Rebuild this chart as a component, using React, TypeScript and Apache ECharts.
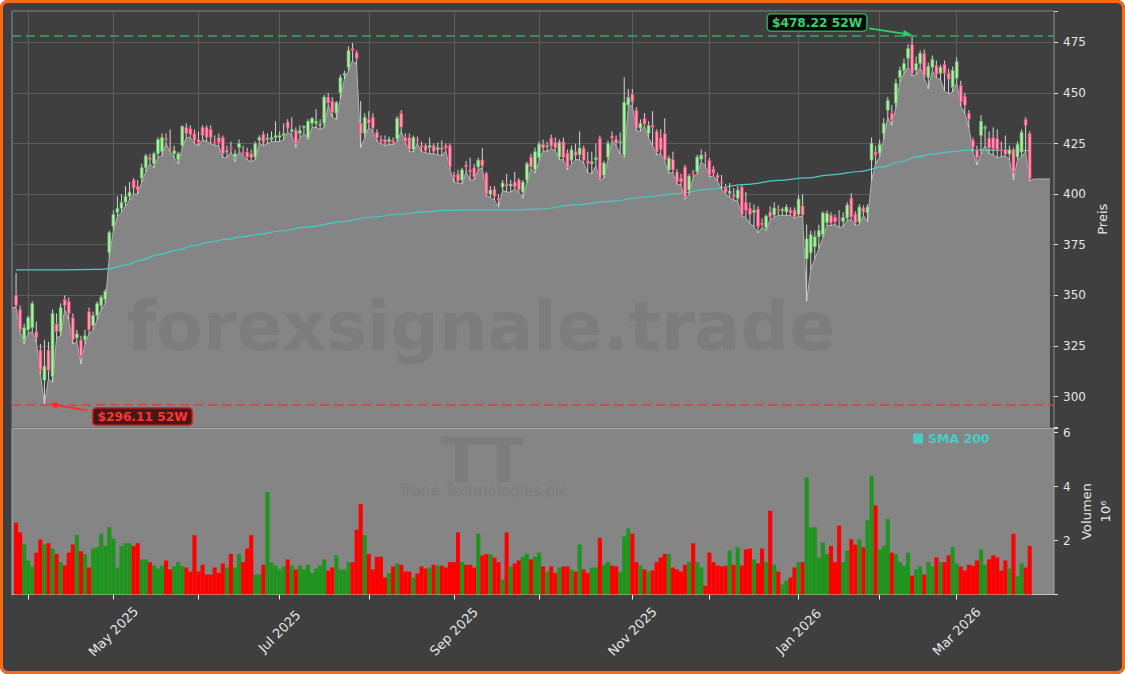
import React, { useEffect, useRef } from "react";
import * as echarts from "echarts";

// ---------- data ----------
const opens = [
  350, 343, 328, 333, 334, 332, 323, 308, 323, 310,
  336, 332, 348, 347, 339, 329, 328, 328, 342, 335,
  340, 345, 348, 371, 384, 391, 393, 396, 399, 407,
  404, 408, 413, 418, 415, 420, 421, 427.5, 423, 420,
  417, 424, 433, 432.5, 430, 427, 433, 433, 432, 426,
  428, 428, 421, 423, 418.3, 423, 421, 420.8, 420, 418.3,
  426.7, 429.6, 427, 427, 428, 428, 429, 435.6, 431, 431.6,
  430, 433, 428, 435, 435, 434, 435, 448, 446, 440,
  450, 458.7, 462.7, 472, 470, 435, 430, 437, 438, 430.6,
  427, 427, 426, 426.5, 427.2, 440, 428, 428, 422, 427,
  424, 424, 423, 424, 422, 423, 424, 424, 409.5, 410,
  407, 414.4, 412, 413, 413.4, 417, 410.4, 400, 402.5, 398,
  403.5, 405, 404, 406, 407, 401, 407, 418.3, 412, 418,
  424.7, 423.5, 427.7, 425.7, 418.3, 426, 420.3, 416.8, 421, 419.5,
  422.8, 416.5, 415, 417, 427.7, 409.4, 418.3, 428.7, 427.2, 425.5,
  419.3, 444, 449.4, 441.5, 432.6, 437.5, 430, 434, 431, 428,
  430, 411.9, 417.3, 411, 408, 413.4, 402, 410.3, 411, 417.3,
  419.5, 416.8, 412.4, 409.4, 406, 403.5, 400.5, 399.5, 398, 403.5,
  396, 393, 391, 392.7, 385.8, 383.3, 391.2, 389.7, 392.5, 391.8,
  391.2, 392.2, 392.2, 390, 394.2, 368, 371, 374, 379, 380,
  386, 389.7, 388.7, 388, 386.5, 388.2, 398.1, 390.2, 386.3, 393.2,
  390.7, 416.8, 420.8, 420.3, 430, 441.5, 440, 444.9, 457.7, 461.2,
  467.1, 474, 461.2, 464.6, 469.6, 457.7, 462.7, 463.7, 459.7, 464.2,
  459.7, 452.8, 457.3, 453.8, 448.4, 440, 426.7, 421.8, 429, 432.6,
  427.7, 428, 427.5, 422, 422, 419.8, 421.8, 418.3, 420.8, 437,
  430.1,
];

const highs = [
  361, 345, 336, 340, 347, 337, 326, 328, 327, 343,
  341, 346, 350, 349, 341, 333, 330, 333, 344, 342,
  347, 350, 353, 382, 392, 399, 400, 404, 406, 408,
  407, 415, 420, 420, 421, 428, 430, 430, 432, 424,
  421, 434, 435, 434, 432, 431, 434, 434, 434, 429,
  430, 429, 424, 426, 422, 427, 424, 423, 422, 426,
  429, 431, 430, 431, 436, 431, 435, 437, 438, 433,
  434, 434, 437, 438, 442, 437, 449, 450, 448, 446,
  459, 461, 473, 474.6, 471, 446, 440, 441, 440, 432,
  429, 429, 428.5, 428, 438.5, 441.5, 430, 430, 429, 428.5,
  426, 425, 428, 425, 425.5, 426.5, 425, 425, 411, 412,
  413, 416.5, 418, 415, 418, 422.8, 411, 404, 404, 400,
  407, 410, 407, 411, 408, 407, 416, 420, 423, 426,
  427, 426, 429.5, 428, 427, 428, 422, 424, 425, 431,
  424, 421, 421, 425, 429, 416.5, 426.5, 431, 429, 430.5,
  457.7, 452, 452, 443, 437, 440, 436, 441, 432, 432,
  437.5, 419, 421, 412.5, 410, 414.5, 410, 412, 419.5, 422,
  421, 418, 414, 410.5, 409.5, 405, 405.5, 403, 404, 404.5,
  401, 396, 395, 394, 388, 390, 394, 396, 394.5, 393.5,
  395, 393.5, 393.5, 399.5, 400, 385, 382, 382, 385, 391.5,
  392, 391, 390, 392, 391, 396, 400.5, 391.5, 395, 394.5,
  395, 428, 424, 427, 437.5, 448, 444, 457, 463, 467,
  474, 478.22, 468, 471, 471.5, 465, 468.5, 466, 464, 466,
  462, 463, 467.6, 456, 450, 441.5, 428, 424, 439, 434,
  431, 433, 432, 426, 429, 424, 423, 426, 432, 438,
  431,
];

const lows = [
  344, 332, 326, 331, 332, 327, 311, 296.11, 309, 307,
  329, 330, 343, 338, 326, 327, 316, 326, 331, 333,
  338, 343, 346, 369, 382, 389, 391, 394, 397, 400,
  400, 406, 411, 415, 413, 418, 419, 425, 421, 418,
  415, 423, 428, 428, 425, 424, 427, 426, 425, 424,
  424, 418, 418, 421, 416, 421, 419, 417, 416, 417,
  425, 424, 425, 426, 426, 426, 427, 431, 429, 423,
  428, 430, 427, 433, 433, 432, 433, 444, 438, 437,
  447, 457, 461, 466, 464, 423, 428, 433, 431, 426,
  425, 424, 424.5, 424.5, 426, 431, 425.5, 421, 421, 425,
  421, 420.5, 420, 420, 419.5, 419, 421.5, 412.5, 406, 405.5,
  405, 411, 407, 407, 412, 413, 399, 398.5, 397, 393.7,
  402, 401, 401, 402.5, 401, 398, 405.5, 412.5, 410.5, 416.5,
  421.5, 421, 422.5, 421.5, 417, 417, 412, 415, 417, 417,
  415.5, 410.5, 410, 414, 407, 408, 417, 426.5, 424, 420,
  418, 443, 444, 431.5, 431, 433.5, 428, 424, 419.5, 420,
  416, 410.5, 410.5, 405, 404.5, 397.5, 400, 408.5, 410, 416,
  414, 408.5, 409, 406.5, 402.5, 400, 398.5, 397, 396.5, 389,
  388.5, 385.5, 384, 380.8, 383.5, 382, 387.5, 388.5, 389.5, 389.5,
  389.5, 389.5, 388, 389, 389, 347, 363, 368, 373, 378.5,
  384.5, 384.5, 385, 383.5, 384, 387, 387.5, 384.5, 385, 389.5,
  386.5, 407, 415, 418.5, 427, 438, 434, 443, 455.5, 459.5,
  462.5, 458.5, 459, 462.5, 457.5, 452, 461, 457.5, 456.5, 451,
  449.5, 450.5, 455, 443.5, 440, 433, 421, 414.4, 420, 424,
  420, 419.5, 418, 418.5, 419, 417, 407, 417, 418.5, 421,
  406.5,
];

const closes = [
  345, 333, 334, 339, 346, 329, 313, 315, 313, 341,
  332, 344, 345, 341, 328, 331, 320, 330, 333, 340,
  346, 349, 352, 381, 390, 393, 396, 399, 401, 403,
  402, 413, 419, 417, 420, 427, 428, 427, 422.5, 421.5,
  420, 433.5, 430, 429.5, 426.5, 425.5, 429, 428, 428, 425.5,
  425.7, 420, 421.5, 422.7, 420, 425, 420.8, 418.3, 418, 425,
  428, 425.7, 427.7, 428, 429, 429, 430, 432.6, 432, 425,
  431.5, 433.5, 436, 437.5, 436, 434.5, 448, 445, 440.5, 445.4,
  457.7, 459.7, 471, 471, 467, 430, 438, 435, 432.6, 427.7,
  426, 425.5, 427, 425.5, 437.5, 433, 426, 422, 428, 426.5,
  423, 421.5, 424, 421, 423, 422, 422.8, 413.4, 408.5, 406.5,
  412, 413.4, 411, 408.5, 416.8, 414, 400, 402, 399, 397,
  405.5, 404, 405, 403.5, 402, 406, 415, 413.4, 421, 424.7,
  422.8, 424, 423.7, 422.8, 425.7, 418, 413.4, 422, 419, 422.8,
  416.8, 415, 416, 418, 408, 415.4, 425.2, 427.7, 425.2, 426,
  445.4, 447.9, 445.4, 432.6, 435, 434.6, 434, 433, 420.8, 422,
  416.8, 417.8, 411.9, 406, 406, 398.6, 409, 410, 418.3, 419.3,
  419, 409.4, 410.4, 408, 405.5, 401, 401.5, 398.6, 402, 389.7,
  392, 390, 392, 383.8, 384.8, 389.2, 388.7, 393.2, 392, 392.6,
  393.7, 390.7, 388.7, 397.6, 389.7, 378, 380, 379, 382, 390.7,
  390.5, 385.8, 386.3, 387.5, 388.5, 394.6, 388.7, 385.8, 393.7, 391.2,
  393.7, 425.2, 419.3, 424.7, 435, 446.4, 436.6, 454.8, 461.2, 464.6,
  472, 459.7, 464.6, 469.6, 458.7, 463.2, 466.6, 459.2, 462.7, 459.7,
  456.8, 461.2, 465.6, 445.4, 443.9, 437, 423.2, 418, 436, 433.1,
  422.8, 422.5, 422, 421.5, 419.8, 421.8, 410.9, 424.7, 430.6, 434,
  407.5,
];

// volume in millions of shares
const volumes = [
  2.67, 2.3, 1.85, 1.26, 1.04, 1.55, 2.04, 1.85, 1.9, 1.7,
  1.5, 1.2, 1.07, 1.55, 1.85, 2.2, 1.6, 1.5, 1.0, 1.7,
  1.75, 2.25, 1.8, 2.5, 2.07, 1.0, 1.8, 1.9, 1.9, 1.8,
  1.9, 1.3, 1.3, 1.2, 1.07, 0.96, 1.07, 1.26, 0.93, 1.04,
  1.2, 1.04, 1.0, 0.85, 2.2, 0.85, 1.1, 0.74, 0.74, 1.0,
  0.8, 1.15, 1.0, 1.5, 1.0, 1.5, 1.2, 1.7, 2.2, 0.74,
  0.74, 1.1, 3.8, 1.2, 1.07, 0.93, 1.04, 1.3, 1.07, 0.93,
  1.07, 0.93, 1.1, 0.8, 0.96, 1.07, 1.3, 0.89, 1.0, 1.45,
  0.93, 0.93, 1.2, 1.2, 2.4, 3.35, 2.2, 1.5, 0.93, 1.4,
  1.4, 0.63, 0.8, 1.04, 1.15, 1.1, 0.85, 0.85, 0.63, 0.78,
  1.04, 0.96, 1.0, 1.1, 1.07, 1.07, 1.0, 1.2, 1.2, 2.3,
  1.2, 1.1, 1.1, 1.0, 2.25, 1.45, 1.5, 1.5, 1.37, 1.2,
  0.55, 2.3, 1.04, 1.15, 1.26, 1.4, 1.5, 1.3, 1.4, 1.55,
  1.04, 0.85, 1.04, 0.8, 1.0, 1.04, 1.04, 0.93, 0.85, 1.85,
  0.93, 0.8, 1.0, 1.0, 2.1, 1.1, 1.2, 1.07, 1.04, 0.85,
  2.15, 2.45, 2.25, 1.2, 1.07, 0.93, 0.85, 0.89, 1.2, 1.37,
  1.5, 1.5, 1.0, 0.93, 0.85, 1.1, 1.2, 1.9, 1.2, 1.0,
  0.33, 1.55, 1.2, 1.07, 1.04, 1.07, 1.63, 1.1, 1.75, 1.07,
  1.67, 1.7, 1.3, 1.15, 1.7, 1.2, 3.1, 1.1, 0.85, 0.37,
  0.52, 0.63, 1.0, 1.2, 1.2, 4.33, 2.48, 2.5, 1.37, 1.93,
  1.5, 1.8, 1.2, 2.55, 1.2, 1.63, 2.04, 1.85, 2.04, 1.75,
  2.75, 4.4, 3.3, 1.67, 1.8, 2.8, 1.55, 1.5, 1.2, 1.07,
  1.55, 0.7, 0.93, 1.04, 0.74, 1.2, 1.04, 1.37, 1.2, 1.2,
  1.45, 1.75, 1.15, 1.04, 0.89, 1.1, 1.07, 1.26, 1.67, 1.1,
  1.3, 1.45, 1.37, 0.89, 1.26, 0.96, 2.25, 0.67, 1.15, 1.0,
  1.8,
];

// SMA 200 read at these bar indices
const smaIdx = [0, 10, 20, 23, 27, 31, 35, 40, 44, 48, 52, 56, 60, 65, 72, 80, 88, 95, 101, 105, 113, 121, 129, 138, 147, 155, 163, 171, 180, 188, 195, 201, 208, 214, 218, 222, 226, 230, 234, 238, 244, 250];
const smaVal = [362.6, 362.6, 362.8, 363.2, 365, 367.5, 370, 372.5, 374.6, 376.4, 377.8, 379, 380.2, 381.8, 383.8, 386.3, 388.7, 390.2, 391.2, 392, 392.2, 392.2, 392.6, 394.7, 396.6, 398.6, 400.3, 402.5, 404.8, 406.8, 408, 409.5, 411.2, 413.5, 416, 418.3, 419.8, 420.8, 421.6, 421.8, 421.7, 421.5];

const START_DATE = "2025-03-27";
const HOLIDAYS = ["2025-04-18", "2025-05-26", "2025-06-19", "2025-07-04", "2025-09-01", "2025-11-27", "2025-12-25", "2026-01-01", "2026-01-19", "2026-02-16"];
const MONTHS = ["Jan", "Feb", "Mar", "Apr", "May", "Jun", "Jul", "Aug", "Sep", "Oct", "Nov", "Dec"];
const PAD_LEFT = 1;
const PAD_RIGHT_AREA = 5;
const PAD_RIGHT_EMPTY = 1;

const FONT = "DejaVu Sans";
const UP_FILL = "#b4ecae";
const UP_BORDER = "#55b855";
const DOWN_FILL = "#ff9cb2";
const DOWN_BORDER = "#e8346a";
const WICK = "#d6d6d6";
const VOL_UP = "#1f951f";
const VOL_DOWN = "#ff0000";
const SMA_COLOR = "#47cdc4";

function tradingDays(start: string, count: number, holidays: string[]): string[] {
  const out: string[] = [];
  const d = new Date(start + "T12:00:00Z");
  while (out.length < count) {
    const wd = d.getUTCDay();
    const iso = d.toISOString().slice(0, 10);
    if (wd !== 0 && wd !== 6 && holidays.indexOf(iso) < 0) out.push(iso);
    d.setUTCDate(d.getUTCDate() + 1);
  }
  return out;
}

function arrow(sx: number, sy: number, tx: number, ty: number, color: string) {
  const dx = tx - sx;
  const dy = ty - sy;
  const len = Math.hypot(dx, dy);
  const ux = dx / len;
  const uy = dy / len;
  const L = 9;
  const W = 3.6;
  const bx = tx - ux * L;
  const by = ty - uy * L;
  return [
    { type: "line", z: 30, silent: true, shape: { x1: sx, y1: sy, x2: bx + ux * 2, y2: by + uy * 2 }, style: { stroke: color, lineWidth: 1.8 } },
    { type: "polygon", z: 30, silent: true, shape: { points: [[tx, ty], [bx - uy * W, by + ux * W], [bx + uy * W, by - ux * W]] }, style: { fill: color } },
  ];
}

export default function App() {
  const ref = useRef<HTMLDivElement>(null);

  useEffect(() => {
    if (!ref.current) return;
    const chart = echarts.init(ref.current, null, { renderer: "svg" });
    const n = closes.length;
    const dates = tradingDays(START_DATE, n, HOLIDAYS);
    const total = PAD_LEFT + n + PAD_RIGHT_AREA + PAD_RIGHT_EMPTY;
    const cats: string[] = [];
    for (let k = 0; k < total; k++) {
      const i = k - PAD_LEFT;
      cats.push(i >= 0 && i < n ? dates[i] : "pad" + k);
    }
    const isMonthStart = (k: number) => {
      const i = k - PAD_LEFT;
      if (i <= 0 || i >= n) return false;
      return dates[i].slice(0, 7) !== dates[i - 1].slice(0, 7);
    };
    const isLabel = (k: number) => isMonthStart(k) && parseInt(dates[k - PAD_LEFT].slice(5, 7), 10) % 2 === 1;

    const lastClose = closes[n - 1];
    const areaData: (number | null)[] = [lows[0]];
    for (let i = 0; i < n; i++) areaData.push(lows[i]);
    for (let j = 0; j < PAD_RIGHT_AREA; j++) areaData.push(lastClose);
    for (let j = 0; j < PAD_RIGHT_EMPTY; j++) areaData.push(null);

    const candleData = opens.map((o, i) => [i + PAD_LEFT, o, closes[i], lows[i], highs[i]]);
    const volData: any[] = [null];
    for (let i = 0; i < n; i++) {
      volData.push({ value: volumes[i], itemStyle: { color: closes[i] >= opens[i] ? VOL_UP : VOL_DOWN } });
    }
    for (let j = 0; j < PAD_RIGHT_AREA + PAD_RIGHT_EMPTY; j++) volData.push(null);
    const smaData = smaIdx.map((i, j) => [i + PAD_LEFT, smaVal[j]]);

    let iMax = 0;
    let iMin = 0;
    for (let i = 0; i < n; i++) {
      if (highs[i] > highs[iMax]) iMax = i;
      if (lows[i] < lows[iMin]) iMin = i;
    }
    const maxHigh = highs[iMax];
    const minLow = lows[iMin];

    const labelStyle = { color: "#e6e6e6", fontSize: 12, fontFamily: FONT };

    const option: any = {
      animation: false,
      backgroundColor: "transparent",
      textStyle: { fontFamily: FONT },
      legend: {
        data: ["SMA 200"],
        left: 913,
        top: 432,
        icon: "rect",
        itemWidth: 10,
        itemHeight: 10,
        padding: 0,
        textStyle: { color: SMA_COLOR, fontWeight: "bold", fontSize: 12.5, fontFamily: FONT },
      },
      grid: [
        { left: 12, right: 71, top: 11, height: 416.5, show: true, backgroundColor: "#3f3f3f", borderColor: "#8e8e8e", borderWidth: 1 },
        { left: 12, right: 71, top: 428.5, height: 166, show: true, backgroundColor: "#858585", borderColor: "#a8a8a8", borderWidth: 1 },
      ],
      xAxis: [
        {
          type: "category",
          gridIndex: 0,
          data: cats,
          boundaryGap: false,
          axisLine: { show: false },
          axisTick: { show: false },
          axisLabel: { show: false },
          splitLine: { show: true, interval: (k: number) => isMonthStart(k), lineStyle: { color: "#5d5d5d", width: 1 } },
        },
        {
          type: "category",
          gridIndex: 1,
          data: cats,
          boundaryGap: false,
          axisLine: { show: true, lineStyle: { color: "#c4c4c4" } },
          axisTick: { show: true, interval: (k: number) => isMonthStart(k), length: 5, lineStyle: { color: "#eeeeee" } },
          axisLabel: {
            show: true,
            interval: (k: number) => isLabel(k),
            rotate: 45,
            align: "center",
            verticalAlign: "middle",
            margin: 37,
            color: "#e6e6e6",
            fontSize: 13,
            fontFamily: FONT,
            formatter: (v: string) => MONTHS[parseInt(v.slice(5, 7), 10) - 1] + " " + v.slice(0, 4),
          },
          splitLine: { show: false },
        },
      ],
      yAxis: [
        {
          type: "value",
          gridIndex: 0,
          position: "right",
          min: 284.7,
          max: 490.5,
          minInterval: 25,
          maxInterval: 25,
          splitNumber: 8,
          axisLine: { show: false },
          axisTick: { show: true, length: 4, lineStyle: { color: "#dddddd" } },
          axisLabel: { ...labelStyle, margin: 9, formatter: (v: number) => (Math.abs(v % 25) < 1e-6 ? String(v) : "") },
          splitLine: { show: true, lineStyle: { color: "#5d5d5d", width: 1 } },
          name: "Preis",
          nameLocation: "middle",
          nameRotate: 90,
          nameGap: 42,
          nameMoveOverlap: false,
          nameTextStyle: { color: "#e6e6e6", fontSize: 13, fontFamily: FONT },
        },
        {
          type: "value",
          gridIndex: 1,
          position: "right",
          min: 0,
          max: 6.15,
          interval: 2,
          axisLine: { show: false },
          axisTick: { show: true, length: 4, lineStyle: { color: "#dddddd" } },
          axisLabel: { ...labelStyle, margin: 9, formatter: (v: number) => (v > 0 && Math.abs(v % 2) < 1e-6 ? String(v) : "") },
          splitLine: { show: false },
          name: "Volumen\n10⁶",
          nameLocation: "middle",
          nameRotate: 90,
          nameGap: 23,
          nameMoveOverlap: false,
          nameTextStyle: { color: "#e6e6e6", fontSize: 13, fontFamily: FONT, lineHeight: 19 },
        },
      ],
      series: [
        {
          name: "Tief",
          type: "line",
          xAxisIndex: 0,
          yAxisIndex: 0,
          data: areaData,
          symbol: "none",
          silent: true,
          z: 1,
          lineStyle: { color: "#b3b3b3", width: 1 },
          areaStyle: { color: "#858585", opacity: 1, origin: "start" },
          markLine: {
            silent: true,
            symbol: ["none", "none"],
            label: { show: false },
            data: [
              { yAxis: maxHigh, lineStyle: { color: "#3aa862", type: [9, 5], width: 1.5 } },
              { yAxis: minLow, lineStyle: { color: "#e23b3b", type: [9, 5], width: 1.5 } },
            ],
          },
        },
        {
          name: "SMA 200",
          type: "line",
          xAxisIndex: 0,
          yAxisIndex: 0,
          data: smaData,
          symbol: "none",
          smooth: 0.35,
          smoothMonotone: "x",
          silent: true,
          z: 3,
          itemStyle: { color: SMA_COLOR },
          lineStyle: { color: SMA_COLOR, width: 1.2 },
        },
        {
          name: "Kerzen",
          type: "custom",
          xAxisIndex: 0,
          yAxisIndex: 0,
          data: candleData,
          encode: { x: 0, y: [1, 2, 3, 4] },
          silent: true,
          z: 4,
          clip: true,
          renderItem: (params: any, api: any) => {
            const k = api.value(0);
            const o = api.value(1);
            const c = api.value(2);
            const l = api.value(3);
            const h = api.value(4);
            const pO = api.coord([k, o]);
            const pC = api.coord([k, c]);
            const pL = api.coord([k, l]);
            const pH = api.coord([k, h]);
            const step = api.coord([k + 1, o])[0] - pO[0];
            const w = step * 0.72;
            const up = c >= o;
            const top = Math.min(pO[1], pC[1]);
            const bh = Math.max(Math.abs(pO[1] - pC[1]), 1.2);
            return {
              type: "group",
              children: [
                { type: "line", shape: { x1: pO[0], y1: pH[1], x2: pO[0], y2: pL[1] }, style: { stroke: WICK, lineWidth: 1 } },
                {
                  type: "rect",
                  shape: { x: pO[0] - w / 2, y: top, width: w, height: bh },
                  style: { fill: up ? UP_FILL : DOWN_FILL, stroke: up ? UP_BORDER : DOWN_BORDER, lineWidth: 0.7 },
                },
              ],
            };
          },
        },
        {
          name: "Volumen",
          type: "bar",
          xAxisIndex: 1,
          yAxisIndex: 1,
          data: volData,
          barWidth: 4.1,
          silent: true,
          z: 2,
        },
      ],
    };

    chart.setOption(option);

    const pMax = chart.convertToPixel({ gridIndex: 0 } as any, [iMax + PAD_LEFT, maxHigh]) as number[];
    const pMin = chart.convertToPixel({ gridIndex: 0 } as any, [iMin + PAD_LEFT, minLow]) as number[];

    const graphics: any[] = [
      {
        type: "text",
        z: 10,
        silent: true,
        x: 481,
        y: 326,
        style: { text: "forexsignale.trade", font: "bold 68px DejaVu Sans", fill: "rgba(0,0,0,0.068)", align: "center", verticalAlign: "middle" },
      },
      { type: "rect", z: 10, silent: true, shape: { x: 441, y: 437, width: 82, height: 8 }, style: { fill: "rgba(0,0,0,0.065)" } },
      { type: "rect", z: 10, silent: true, shape: { x: 455, y: 445, width: 13, height: 37 }, style: { fill: "rgba(0,0,0,0.065)" } },
      { type: "rect", z: 10, silent: true, shape: { x: 497, y: 445, width: 13, height: 37 }, style: { fill: "rgba(0,0,0,0.065)" } },
      {
        type: "text",
        z: 10,
        silent: true,
        x: 483,
        y: 491,
        style: { text: "Trane Technologies plc", font: "15px DejaVu Sans", fill: "rgba(0,0,0,0.075)", align: "center", verticalAlign: "middle" },
      },
      {
        type: "text",
        z: 31,
        silent: true,
        x: pMax[0] - 46,
        y: pMax[1] - 13.3,
        style: {
          text: "$" + maxHigh.toFixed(2) + " 52W",
          font: "bold 12.2px DejaVu Sans",
          fill: "#33d36e",
          align: "right",
          verticalAlign: "middle",
          backgroundColor: "#070907",
          borderColor: "#2aa65a",
          borderWidth: 1.5,
          borderRadius: 3,
          padding: [2, 4, 2, 4],
        },
      },
      ...arrow(pMax[0] - 43, pMax[1] - 7.5, pMax[0], pMax[1] - 1, "#2fcf6a"),
      {
        type: "text",
        z: 31,
        silent: true,
        x: pMin[0] + 49,
        y: pMin[1] + 12.2,
        style: {
          text: "$" + minLow.toFixed(2) + " 52W",
          font: "bold 12.2px DejaVu Sans",
          fill: "#ff3434",
          align: "left",
          verticalAlign: "middle",
          backgroundColor: "#4a1616",
          borderColor: "#d82424",
          borderWidth: 1.5,
          borderRadius: 3,
          padding: [2, 4, 2, 4],
        },
      },
      ...arrow(pMin[0] + 43, pMin[1] + 6, pMin[0] + 4, pMin[1] - 0.5, "#ff2e2e"),
    ];
    chart.setOption({ graphic: graphics });

    return () => {
      chart.dispose();
    };
  }, []);

  return (
    <div style={{ position: "fixed", left: 0, top: 0, width: 1125, height: 674, background: "#ffffff", overflow: "hidden" }}>
      <div style={{ position: "absolute", left: 0, top: 0, width: 1125, height: 674, background: "#3f3f3f", borderRadius: 8 }} />
      <div ref={ref} style={{ position: "absolute", left: 0, top: 0, width: 1125, height: 674 }} />
      <div
        style={{
          position: "absolute",
          left: 0,
          top: 0,
          width: 1125,
          height: 674,
          boxSizing: "border-box",
          border: "3px solid #f86a14",
          borderRadius: 8,
          pointerEvents: "none",
        }}
      />
    </div>
  );
}
